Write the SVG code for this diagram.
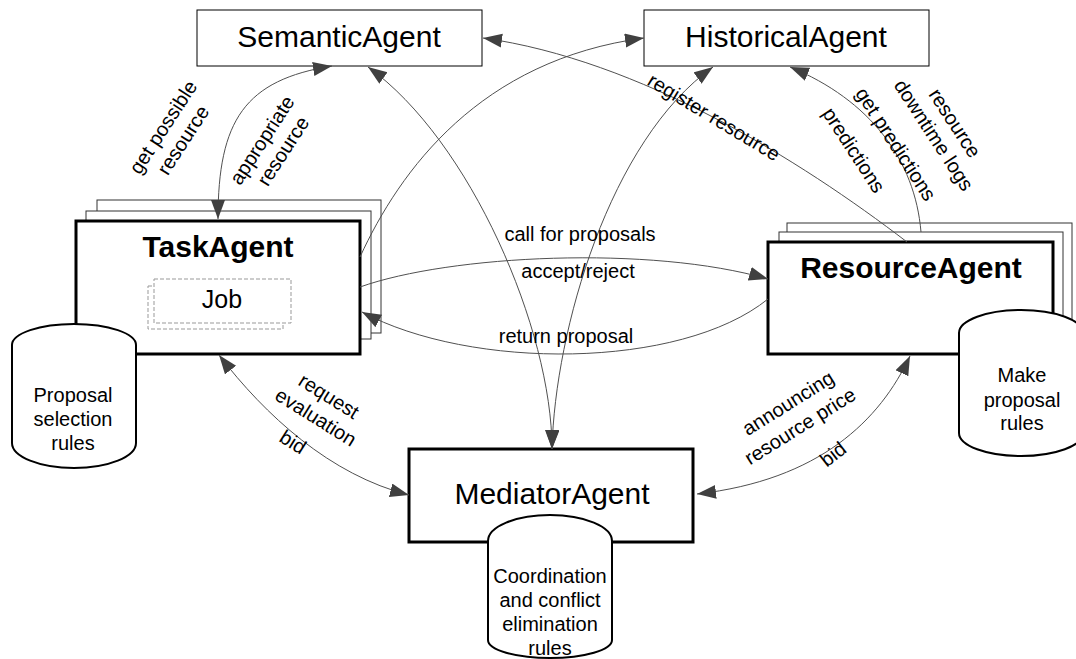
<svg xmlns="http://www.w3.org/2000/svg" width="1076" height="659" viewBox="0 0 1076 659">
<style>
text{font-family:"Liberation Sans",Arial,sans-serif;fill:#000}
.title{font-size:30px;text-anchor:middle}
.bold{font-weight:bold}
.lbl{font-size:20px;text-anchor:middle}
.thin{fill:#fff;stroke:#000;stroke-width:1}
.back{fill:#fff;stroke:#333;stroke-width:1}
.thick{fill:#fff;stroke:#000;stroke-width:3}
.cyl{fill:#fff;stroke:#000;stroke-width:2}
.job{fill:#fff;stroke:#999;stroke-width:1;stroke-dasharray:4 2}
.conn{fill:none;stroke:#505050;stroke-width:1}
</style>
<defs>
<marker id="ah" markerUnits="userSpaceOnUse" markerWidth="20" markerHeight="16" refX="19" refY="7" orient="auto-start-reverse">
<path d="M0,0 L19,7 L0,14 Z" fill="#404040"/>
</marker>
</defs>
<rect width="1076" height="659" fill="#fff"/>

<g id="SemanticAgent">
<rect class="thin" x="197" y="10" width="285" height="56"/>
<text class="title" x="339" y="47">SemanticAgent</text>
</g>

<g id="HistoricalAgent">
<rect class="thin" x="644" y="10" width="285" height="56"/>
<text class="title" x="786" y="47">HistoricalAgent</text>
</g>

<g id="TaskAgent">
<rect class="back" x="97" y="200" width="284" height="133"/>
<rect class="back" x="86" y="211" width="285" height="128"/>
<rect class="thick" x="76" y="221" width="284" height="133"/>
<text class="title bold" x="218" y="257">TaskAgent</text>
<g id="Job">
<rect class="job" x="148" y="286" width="135" height="43"/>
<rect class="job" x="154" y="279" width="137" height="44"/>
<text x="222" y="308" style="font-size:25px;text-anchor:middle">Job</text>
</g>
</g>

<g id="ProposalSelectionRules">
<path class="cyl" d="M12,345 A62,21 0 0 1 136,345 L136,443 A62,25 0 0 1 12,443 Z"/>
<text class="lbl" x="73" y="402">Proposal</text>
<text class="lbl" x="73" y="426">selection</text>
<text class="lbl" x="73" y="450">rules</text>
</g>

<g id="ResourceAgent">
<rect class="back" x="787" y="223" width="285" height="110"/>
<rect class="back" x="779" y="232" width="284" height="110"/>
<rect class="thick" x="768" y="242" width="285" height="112"/>
<text class="title bold" x="911" y="278">ResourceAgent</text>
</g>

<g id="MakeProposalRules">
<path class="cyl" d="M959,333 A62,23 0 0 1 1083,333 L1083,433 A62,23 0 0 1 959,433 Z"/>
<text class="lbl" x="1022" y="382">Make</text>
<text class="lbl" x="1022" y="407">proposal</text>
<text class="lbl" x="1022" y="430">rules</text>
</g>

<g id="MediatorAgent">
<rect class="thick" x="409" y="449" width="284" height="93"/>
<text class="title" x="552" y="504">MediatorAgent</text>
</g>

<g id="CoordinationRules">
<path class="cyl" d="M488,541 A62,26 0 0 1 612,541 L612,640 A62,18 0 0 1 488,640 Z"/>
<text class="lbl" x="550" y="583">Coordination</text>
<text class="lbl" x="550" y="607">and conflict</text>
<text class="lbl" x="550" y="631">elimination</text>
<text class="lbl" x="550" y="655">rules</text>
</g>

<g id="connectors">
<path class="conn" d="M218,219 C218,120 245,80 332,66" marker-start="url(#ah)" marker-end="url(#ah)"/>
<path class="conn" d="M368,67 C470,140 552,330 552,449" marker-start="url(#ah)" marker-end="url(#ah)"/>
<path class="conn" d="M713,67 C610,140 555,330 552,449" marker-start="url(#ah)" marker-end="url(#ah)"/>
<path class="conn" d="M360,257 C400,170 480,60 644,38" marker-end="url(#ah)"/>
<path class="conn" d="M907,242 C800,160 640,60 483,38" marker-end="url(#ah)"/>
<path class="conn" d="M921,232 C915,160 870,100 790,67" marker-end="url(#ah)"/>
<path class="conn" d="M360,287 C450,255 650,245 768,279" marker-end="url(#ah)"/>
<path class="conn" d="M768,299 C680,370 470,370 362,312" marker-end="url(#ah)"/>
<path class="conn" d="M219,355 C265,415 330,475 409,495" marker-start="url(#ah)" marker-end="url(#ah)"/>
<path class="conn" d="M910,356 C880,420 820,480 697,494" marker-start="url(#ah)" marker-end="url(#ah)"/>

<g id="labels">
<text class="lbl" transform="translate(163,127) rotate(-57)" dy="7">get possible</text>
<text class="lbl" transform="translate(183,140) rotate(-57)" dy="7">resource</text>
<text class="lbl" transform="translate(262,140) rotate(-57)" dy="7">appropriate</text>
<text class="lbl" transform="translate(283,151) rotate(-57)" dy="7">resource</text>
<text class="lbl" transform="translate(714,117) rotate(31)" dy="7">register resource</text>
<text class="lbl" transform="translate(854,150) rotate(57)" dy="7">predictions</text>
<text class="lbl" transform="translate(896,144) rotate(57)" dy="7">get predictions</text>
<text class="lbl" transform="translate(955,123) rotate(57)" dy="7">resource</text>
<text class="lbl" transform="translate(934,135) rotate(57)" dy="7">downtime logs</text>
<text class="lbl" x="580" y="241">call for proposals</text>
<text class="lbl" x="578" y="278">accept/reject</text>
<text class="lbl" x="566" y="343">return proposal</text>
<text class="lbl" transform="translate(329,396) rotate(32)" dy="7">request</text>
<text class="lbl" transform="translate(316,417) rotate(32)" dy="7">evaluation</text>
<text class="lbl" transform="translate(293,442) rotate(32)" dy="7">bid</text>
<text class="lbl" transform="translate(788,403) rotate(-32)" dy="7">announcing</text>
<text class="lbl" transform="translate(800,426) rotate(-32)" dy="7">resource price</text>
<text class="lbl" transform="translate(833,454) rotate(-38)" dy="7">bid</text>
</g>
</g>
</svg>
